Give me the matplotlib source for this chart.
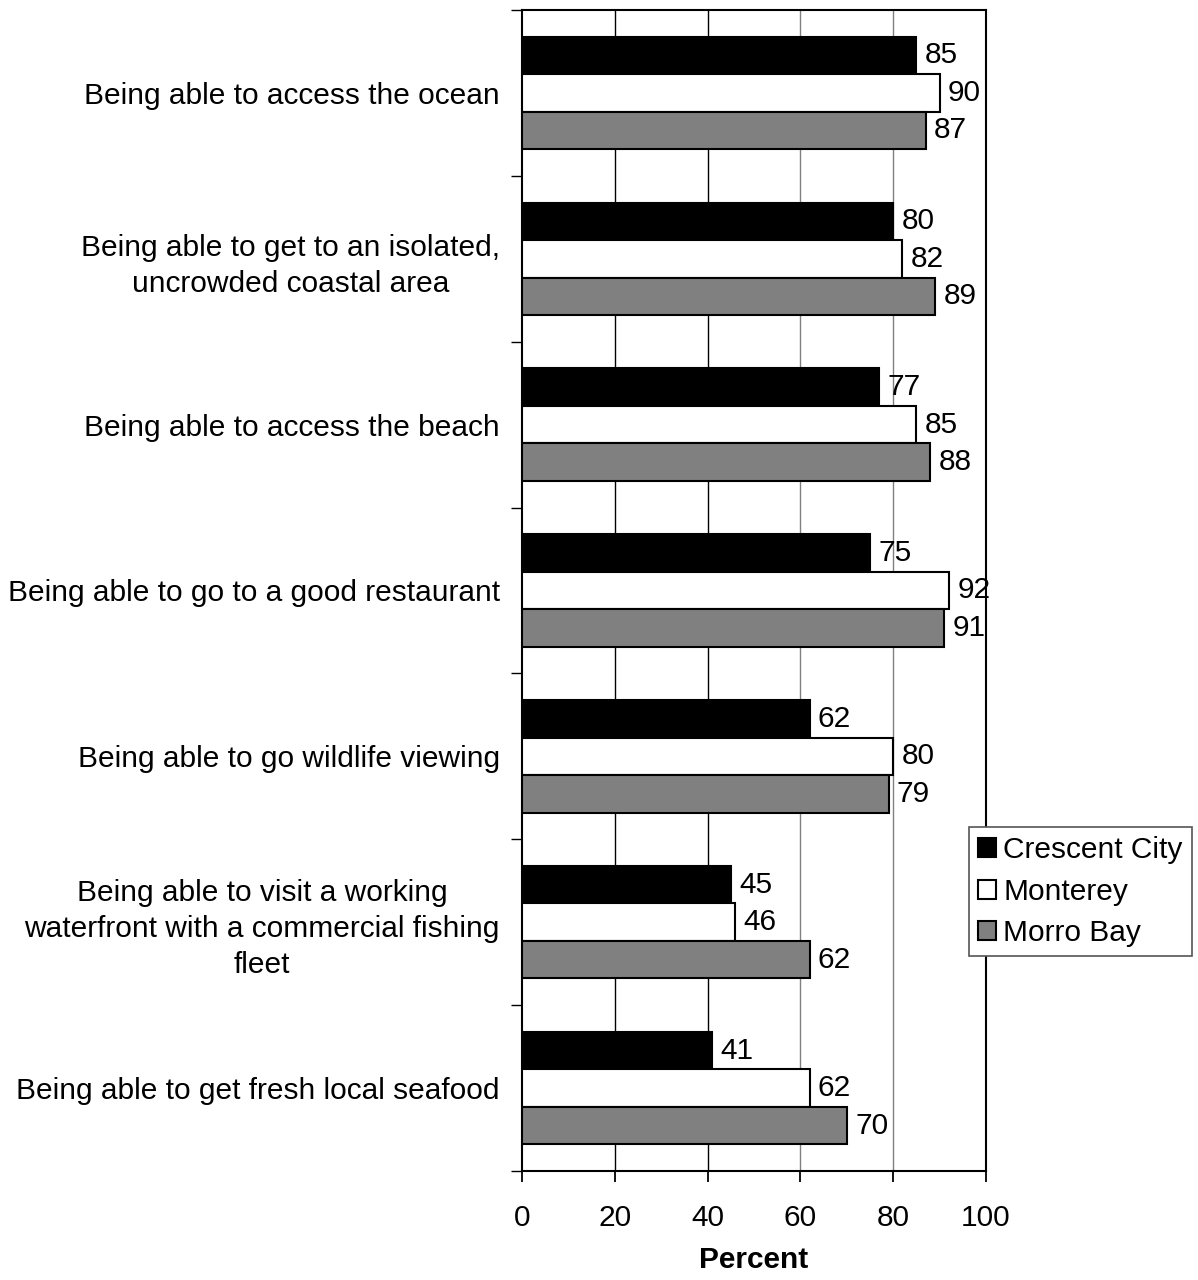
import numpy as np
import matplotlib.pyplot as plt

plt.rcParams['font.family'] = ['Liberation Sans', 'DejaVu Sans']

# カテゴリと値
categories = [
    "Being able to access the ocean",
    "Being able to get to an isolated,\nuncrowded coastal area",
    "Being able to access the beach",
    "Being able to go to a good restaurant",
    "Being able to go wildlife viewing",
    "Being able to visit a working\nwaterfront with a commercial fishing\nfleet",
    "Being able to get fresh local seafood",
]
crescent_city = [85, 80, 77, 75, 62, 45, 41]
monterey = [90, 82, 85, 92, 80, 46, 62]
morro_bay = [87, 89, 88, 91, 79, 62, 70]
series_names = ["Crescent City", "Monterey", "Morro Bay"]
series_colors = ["black", "white", "#808080"]

fs = 21.5

fig = plt.figure(figsize=(11.98, 12.8), dpi=100)
ax = fig.add_axes([0.4357, 0.0852, 0.3873, 0.907])

y = np.arange(len(categories))
h = 0.226
for i, (vals, name, col) in enumerate(zip([crescent_city, monterey, morro_bay], series_names, series_colors)):
    pos = y + (i - 1) * h
    ax.barh(pos, vals, height=h, color=col, edgecolor='black', linewidth=1.5, label=name, zorder=3)
    for p, v in zip(pos, vals):
        ax.text(v + 1.8, p, str(v), va='center', ha='left', fontsize=fs, clip_on=False, zorder=4)

# グリッド
for xv, c in zip([20, 40, 60, 80], ['black', 'black', '#808080', '#808080']):
    ax.axvline(xv, color=c, linewidth=1.0, zorder=1)

ax.set_xlim(0, 100)
ax.set_ylim(len(categories) - 0.5, -0.5)
ax.set_xticks(np.arange(0, 101, 20))
ax.tick_params(axis='x', labelsize=fs, length=8, width=1.3, direction='out', pad=16)
ax.set_yticks(y)
ax.set_yticklabels(categories, multialignment='center', linespacing=1.36)
ax.tick_params(axis='y', which='major', length=0, labelsize=fs, pad=16)
ax.set_yticks(np.arange(-0.5, len(categories), 1.0), minor=True)
ax.tick_params(axis='y', which='minor', length=8, width=1.0, direction='out')
for s in ax.spines.values():
    s.set_linewidth(1.5)

ax.set_xlabel("Percent", fontsize=fs, fontweight='bold', labelpad=10)

leg = fig.legend(loc='upper left', bbox_to_anchor=(969 / 1198, 1 - 827 / 1280),
                 fontsize=fs, handlelength=0.6, handleheight=0.6, handletextpad=0.25,
                 borderpad=0.3, labelspacing=0.46, fancybox=False, framealpha=1,
                 edgecolor='#555555', borderaxespad=0)
leg.get_frame().set_linewidth(1.2)

fig.savefig("out.png", dpi=100)
